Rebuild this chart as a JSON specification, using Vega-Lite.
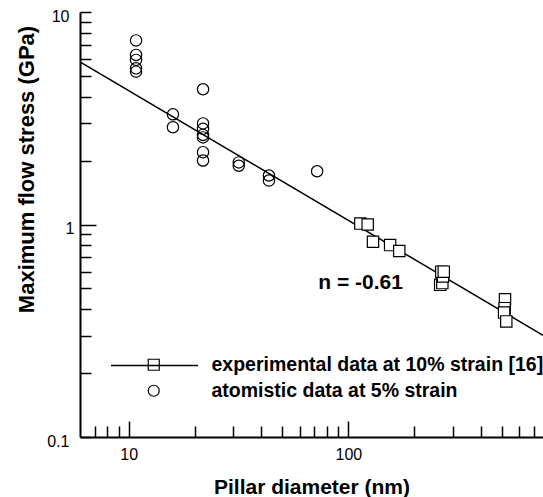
{
  "$schema": "https://vega.github.io/schema/vega-lite/v6.json",
  "autosize": "none",
  "width": 463,
  "height": 425,
  "padding": {"left": 80, "top": 12, "right": 0, "bottom": 60},
  "config": {
    "font": "Liberation Sans",
    "view": {"stroke": null},
    "axis": {"grid": false, "domainColor": "black", "domainWidth": 2, "tickColor": "black", "tickWidth": 1.5, "labelColor": "black", "labelFont": "Liberation Sans", "labelFontSize": 16, "titleFont": "Liberation Sans", "titleFontWeight": "bold", "titleColor": "black"}
  },
  "datasets": {
    "pts": [
      {"series": "atomistic data at 5% strain", "d": 10.8, "s": 7.35},
      {"series": "atomistic data at 5% strain", "d": 10.8, "s": 6.28},
      {"series": "atomistic data at 5% strain", "d": 10.8, "s": 5.95},
      {"series": "atomistic data at 5% strain", "d": 10.8, "s": 5.43},
      {"series": "atomistic data at 5% strain", "d": 10.8, "s": 5.24},
      {"series": "atomistic data at 5% strain", "d": 15.9, "s": 3.30},
      {"series": "atomistic data at 5% strain", "d": 15.9, "s": 2.87},
      {"series": "atomistic data at 5% strain", "d": 21.8, "s": 4.33},
      {"series": "atomistic data at 5% strain", "d": 21.8, "s": 2.99},
      {"series": "atomistic data at 5% strain", "d": 21.8, "s": 2.82},
      {"series": "atomistic data at 5% strain", "d": 21.8, "s": 2.64},
      {"series": "atomistic data at 5% strain", "d": 21.8, "s": 2.57},
      {"series": "atomistic data at 5% strain", "d": 21.8, "s": 2.19},
      {"series": "atomistic data at 5% strain", "d": 21.8, "s": 2.0},
      {"series": "atomistic data at 5% strain", "d": 31.7, "s": 1.96},
      {"series": "atomistic data at 5% strain", "d": 31.7, "s": 1.89},
      {"series": "atomistic data at 5% strain", "d": 43.5, "s": 1.70},
      {"series": "atomistic data at 5% strain", "d": 43.5, "s": 1.61},
      {"series": "atomistic data at 5% strain", "d": 72.1, "s": 1.78},
      {"series": "experimental data at 10% strain [16]", "d": 113.4, "s": 1.01},
      {"series": "experimental data at 10% strain [16]", "d": 122.5, "s": 1.0},
      {"series": "experimental data at 10% strain [16]", "d": 129.5, "s": 0.83},
      {"series": "experimental data at 10% strain [16]", "d": 155, "s": 0.80},
      {"series": "experimental data at 10% strain [16]", "d": 170.6, "s": 0.75},
      {"series": "experimental data at 10% strain [16]", "d": 262, "s": 0.52},
      {"series": "experimental data at 10% strain [16]", "d": 268, "s": 0.53},
      {"series": "experimental data at 10% strain [16]", "d": 270, "s": 0.57},
      {"series": "experimental data at 10% strain [16]", "d": 265, "s": 0.60},
      {"series": "experimental data at 10% strain [16]", "d": 272, "s": 0.60},
      {"series": "experimental data at 10% strain [16]", "d": 517, "s": 0.445},
      {"series": "experimental data at 10% strain [16]", "d": 515, "s": 0.404},
      {"series": "experimental data at 10% strain [16]", "d": 512, "s": 0.385},
      {"series": "experimental data at 10% strain [16]", "d": 524, "s": 0.35}
    ],
    "fit": [
      {"d": 6, "s": 5.82},
      {"d": 770, "s": 0.301}
    ],
    "note": [
      {"d": 73, "s": 0.531, "label": "n = -0.61"}
    ]
  },
  "encoding": {
    "x": {"field": "d", "type": "quantitative",
      "scale": {"type": "log", "domain": [6, 770], "nice": false},
      "axis": {"title": "Pillar diameter (nm)", "titleFontSize": 21, "values": [7, 8, 9, 10, 20, 30, 40, 50, 60, 70, 80, 90, 100, 200, 300, 400, 500, 600, 700],
        "labelExpr": "datum.value == 10 || datum.value == 100 ? datum.label : ''",
        "labelPadding": 25, "labelFlush": false, "labelOverlap": false,
        "tickSize": {"condition": {"test": "datum.value == 10 || datum.value == 100", "value": -16}, "value": -11},
        "titleY": 50, "titleBaseline": "middle"}},
    "y": {"field": "s", "type": "quantitative",
      "scale": {"type": "log", "domain": [0.1, 10], "nice": false},
      "axis": {"title": "Maximum flow stress (GPa)", "titleFontSize": 22, "values": [0.1, 0.2, 0.3, 0.4, 0.5, 0.6, 0.7, 0.8, 0.9, 1, 2, 3, 4, 5, 6, 7, 8, 9, 10],
        "format": "~g",
        "labelExpr": "datum.value == 0.1 || datum.value == 1 || datum.value == 10 ? datum.label : ''",
        "labelPadding": 22, "labelOffset": 4, "labelFlush": false, "labelOverlap": false,
        "tickSize": {"condition": {"test": "datum.value == 1", "value": -16}, "value": -11},
        "titleX": -54, "titleY": 157, "titleBaseline": "middle", "titleAlign": "center"}}
  },
  "layer": [
    {
      "data": {"name": "fit"},
      "mark": {"type": "line", "strokeWidth": 1.5, "clip": true},
      "encoding": {
        "stroke": {"datum": "fit", "scale": {"range": ["black"]},
          "legend": {"title": null, "orient": "none", "legendX": 30, "legendY": 309, "padding": 0,
            "symbolType": "stroke", "symbolSize": 7569, "symbolStrokeWidth": 1.5, "symbolStrokeColor": "black",
            "labelOpacity": 0, "labelFontSize": 10, "labelOffset": 0}}
      }
    },
    {
      "data": {"name": "pts"},
      "mark": {"type": "point", "strokeWidth": 1.2, "opacity": 1, "size": 128, "stroke": "black"},
      "encoding": {
        "shape": {"field": "series", "type": "nominal",
          "scale": {"domain": ["experimental data at 10% strain [16]", "atomistic data at 5% strain"], "range": ["square", "circle"]},
          "legend": {"title": null, "orient": "none", "legendX": 64, "legendY": 343, "padding": 0,
            "symbolSize": 121, "symbolStrokeColor": "black", "symbolStrokeWidth": 1.2, "symbolFillColor": "white",
            "labelFont": "Liberation Sans", "labelFontSize": 19.5, "labelFontWeight": "bold", "labelColor": "black", "labelOffset": 48, "labelLimit": 400,
            "rowPadding": 5}},
        "fill": {"condition": {"test": "datum.series == 'experimental data at 10% strain [16]'", "value": "white"}, "value": "transparent"}
      }
    },
    {
      "data": {"name": "note"},
      "mark": {"type": "text", "align": "left", "baseline": "middle", "fontSize": 21, "fontWeight": "bold", "font": "Liberation Sans", "color": "black"},
      "encoding": {"text": {"field": "label"}}
    },
    {
      "data": {"values": [{}]},
      "mark": {"type": "rule", "color": "black", "strokeWidth": 2},
      "encoding": {"y": {"datum": 10}, "x": null}
    }
  ]
}
